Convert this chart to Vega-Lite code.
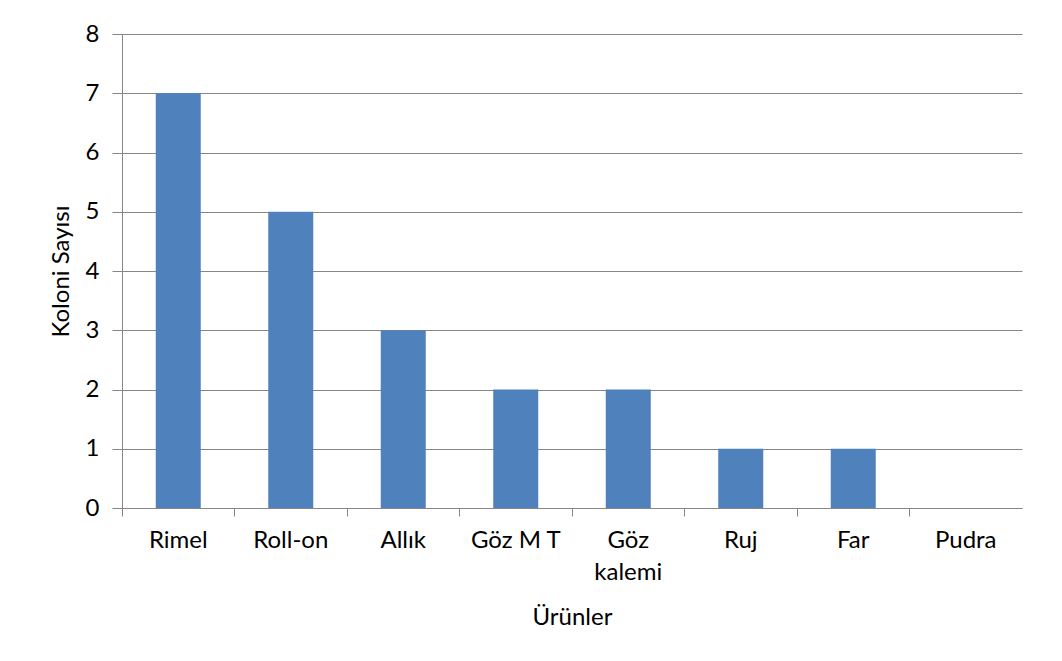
{
  "$schema": "https://vega.github.io/schema/vega-lite/v6.json",
  "width": 900,
  "height": 474,
  "autosize": {"type": "none"},
  "padding": {"left": 122, "top": 34, "right": 40, "bottom": 153},
  "background": "white",
  "data": {
    "values": [
      {"urun": "Rimel", "sayi": 7},
      {"urun": "Roll-on", "sayi": 5},
      {"urun": "Allık", "sayi": 3},
      {"urun": "Göz M T", "sayi": 2},
      {"urun": "Göz kalemi", "sayi": 2},
      {"urun": "Ruj", "sayi": 1},
      {"urun": "Far", "sayi": 1},
      {"urun": "Pudra", "sayi": 0}
    ]
  },
  "mark": {"type": "bar", "color": "#4F81BD", "width": {"band": 0.4}},
  "encoding": {
    "x": {
      "field": "urun",
      "type": "nominal",
      "sort": null,
      "scale": {"paddingInner": 0, "paddingOuter": 0},
      "axis": {
        "title": "Ürünler",
        "labelAngle": 0,
        "bandPosition": 0,
        "grid": false,
        "tickSize": 8,
        "labelPadding": 12,
        "labelFontSize": 24,
        "labelLineHeight": 32,
        "labelExpr": "datum.value == 'Göz kalemi' ? ['Göz', 'kalemi'] : datum.value",
        "titleFontSize": 24,
        "titlePadding": 21
      }
    },
    "y": {
      "field": "sayi",
      "type": "quantitative",
      "scale": {"domain": [0, 8], "nice": false},
      "axis": {
        "title": "Koloni Sayısı",
        "values": [0, 1, 2, 3, 4, 5, 6, 7, 8],
        "labelOverlap": false,
        "tickSize": 10,
        "labelPadding": 13,
        "labelFontSize": 24,
        "titleFontSize": 24,
        "titlePadding": 12
      }
    }
  },
  "config": {
    "view": {"stroke": null},
    "font": "Lato",
    "axis": {
      "domainColor": "#868686",
      "tickColor": "#868686",
      "gridColor": "#868686",
      "gridOpacity": 1,
      "labelColor": "#000000",
      "titleColor": "#000000",
      "labelFont": "Lato",
      "titleFont": "Lato",
      "titleFontWeight": "normal"
    }
  }
}
